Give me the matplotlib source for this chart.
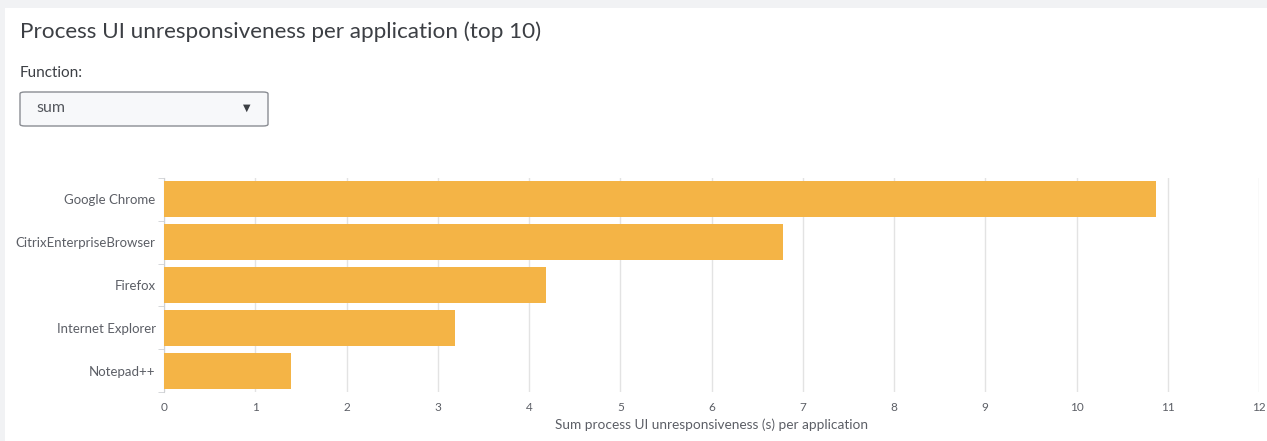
import matplotlib.pyplot as plt
from matplotlib.patches import FancyBboxPatch, Rectangle

apps = ["Google Chrome", "CitrixEnterpriseBrowser", "Firefox", "Internet Explorer", "Notepad++"]
values = [10.87, 6.78, 4.19, 3.19, 1.39]
x_ticks = list(range(0, 13))

BAR_COLOR = "#F4B446"
TEXT_COLOR = "#5c5f66"
GRID_COLOR = "#e3e3e3"

plt.rcParams["font.family"] = ["Lato", "DejaVu Sans"]

W, H = 1267, 441
fig = plt.figure(figsize=(W / 100, H / 100), dpi=100)
fig.patch.set_facecolor("white")

# page background strips (top and left)
fig.patches.append(Rectangle((0, 1 - 8 / H), 1, 8 / H, transform=fig.transFigure,
                             facecolor="#f1f2f4", edgecolor="none"))
fig.patches.append(Rectangle((0, 0), 5 / W, 1, transform=fig.transFigure,
                             facecolor="#f1f2f4", edgecolor="none"))

fig.text(20 / W, 1 - 32 / H, "Process UI unresponsiveness per application (top 10)",
         fontsize=16.2, color="#3c3f44", va="center", ha="left")
fig.text(20 / W, 1 - 73 / H, "Function:", fontsize=11, color="#3c3f44", va="center", ha="left")

# dropdown box
box = FancyBboxPatch((20 / W, 1 - 126 / H), 248 / W, 34 / H,
                     boxstyle="round,pad=0,rounding_size=0.004",
                     transform=fig.transFigure, facecolor="#f7f8fa",
                     edgecolor="#8a8d93", linewidth=1.0)
fig.patches.append(box)
fig.text(36 / W, 1 - 108 / H, "sum", fontsize=11.5, color="#55585e", va="center", ha="left")
fig.text(247 / W, 1 - 108 / H, "\u25BC", fontsize=7, color="#3c3f44", va="center", ha="center",
         family="DejaVu Sans")

ax = fig.add_axes([164 / W, 1 - 392 / H, (1259 - 164) / W, (392 - 178) / H])
y_pos = list(range(len(apps)))
ax.barh(y_pos, values, height=0.84, color=BAR_COLOR, zorder=3)
ax.set_ylim(len(apps) - 0.5, -0.5)
ax.set_xlim(0, 12)

ax.set_xticks(x_ticks)
ax.set_xticklabels([str(t) for t in x_ticks])
ax.set_yticks(y_pos)
ax.set_yticklabels(apps)
ax.set_yticks([i + 0.5 for i in range(-1, len(apps))], minor=True)

ax.grid(axis="x", color=GRID_COLOR, linewidth=1, zorder=0)
for s in ["top", "right", "bottom"]:
    ax.spines[s].set_visible(False)
ax.spines["left"].set_color("#cfd1d4")

ax.tick_params(axis="x", length=0, pad=7, labelsize=8.5, labelcolor=TEXT_COLOR)
ax.tick_params(axis="y", which="major", length=0, pad=6, labelsize=9.5, labelcolor=TEXT_COLOR)
ax.tick_params(axis="y", which="minor", length=4, color="#cfd1d4")

ax.set_xlabel("Sum process UI unresponsiveness (s) per application", fontsize=9.8,
              color=TEXT_COLOR, labelpad=4)

fig.savefig("out.png", dpi=100)
